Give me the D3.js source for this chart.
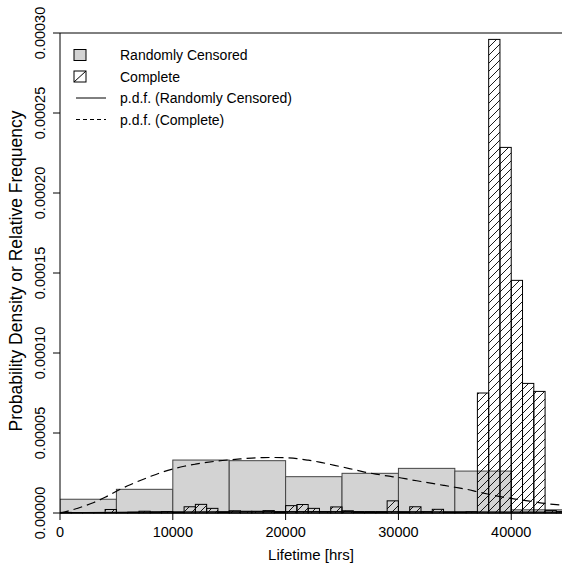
<!DOCTYPE html>
<html>
<head>
<meta charset="utf-8">
<script src="https://cdn.jsdelivr.net/npm/d3@7"></script>
<style>
  body { margin: 0; background: #fff; }
  text { font-family: "Liberation Sans", Arial, Helvetica, sans-serif; fill: #000; }
</style>
</head>
<body>
<div id="chart"></div>
<script>
// gray histogram (Randomly Censored), 5000 hr bins, density
var censBinStart = [0, 5000, 10000, 15000, 20000, 25000, 30000, 35000, 40000];
var censBinWidth = 5000;
var censDensity = [8.6e-6, 14.8e-6, 33.1e-6, 32.7e-6, 22.7e-6, 24.8e-6, 27.9e-6, 26.2e-6, 2.0e-6];

// hatched histogram (Complete), 1000 hr bins, density
var compBinWidth = 1000;
var compDensity = [
  0.4e-6, 0.2e-6, 0.3e-6, 0.2e-6, 2.2e-6, 0.2e-6, 0.5e-6, 1.1e-6, 0.7e-6, 0.9e-6,
  0.5e-6, 3.9e-6, 5.4e-6, 2.9e-6, 0.6e-6, 1.4e-6, 1.1e-6, 1.1e-6, 1.5e-6, 0.5e-6,
  4.6e-6, 5.3e-6, 2.9e-6, 0.8e-6, 3.8e-6, 1.4e-6, 0.6e-6, 0.5e-6, 0.5e-6, 7.6e-6,
  0.5e-6, 3.9e-6, 0.8e-6, 2.3e-6, 0.5e-6, 0.5e-6, 0.8e-6, 75e-6, 296e-6, 228.5e-6,
  145.4e-6, 81e-6, 76e-6, 1.5e-6, 1.0e-6
];

// p.d.f. curves
var pdfX = [0, 1000, 2000, 3000, 4000, 5000, 6000, 7000, 8000, 9000, 10000, 11000, 12000,
  13000, 14000, 15000, 16000, 17000, 18000, 19000, 20000, 21000, 22000, 23000, 24000,
  25000, 26000, 27000, 28000, 29000, 30000, 31000, 32000, 33000, 34000, 35000, 36000,
  37000, 38000, 39000, 40000, 41000, 42000, 43000, 44000, 45000];
var pdfComplete = [0, 1.8e-6, 4.0e-6, 6.6e-6, 9.8e-6, 13.6e-6, 17.0e-6, 20.0e-6, 22.8e-6,
  25.4e-6, 27.5e-6, 29.2e-6, 30.5e-6, 31.6e-6, 32.5e-6, 33.2e-6, 33.8e-6, 34.3e-6, 34.6e-6,
  34.7e-6, 34.5e-6, 34.0e-6, 33.0e-6, 31.8e-6, 30.3e-6, 28.8e-6, 27.2e-6, 25.6e-6, 24.3e-6,
  23.2e-6, 22.2e-6, 20.9e-6, 19.7e-6, 18.5e-6, 17.3e-6, 16.1e-6, 14.9e-6, 13.3e-6, 11.7e-6,
  10.2e-6, 9.1e-6, 8.0e-6, 7.0e-6, 6.0e-6, 5.2e-6, 4.6e-6];
var pdfCensored = [0.2e-6, 0.25e-6, 0.3e-6, 0.35e-6, 0.4e-6, 0.45e-6, 0.5e-6, 0.55e-6, 0.6e-6,
  0.65e-6, 0.7e-6, 0.72e-6, 0.75e-6, 0.78e-6, 0.8e-6, 0.82e-6, 0.84e-6, 0.86e-6, 0.88e-6,
  0.9e-6, 0.9e-6, 0.9e-6, 0.9e-6, 0.9e-6, 0.9e-6, 0.9e-6, 0.9e-6, 0.9e-6, 0.9e-6,
  0.88e-6, 0.86e-6, 0.84e-6, 0.82e-6, 0.8e-6, 0.78e-6, 0.76e-6, 0.74e-6, 0.72e-6, 0.7e-6,
  0.68e-6, 0.66e-6, 0.64e-6, 0.62e-6, 0.6e-6, 0.58e-6, 0.56e-6];

var xTicks = [0, 10000, 20000, 30000, 40000];
var yTicks = [0, 0.00005, 0.0001, 0.00015, 0.0002, 0.00025, 0.0003];
var yTickLabels = ["0.00000", "0.00005", "0.00010", "0.00015", "0.00020", "0.00025", "0.00030"];
var legendLabels = ["Randomly Censored", "Complete", "p.d.f. (Randomly Censored)", "p.d.f. (Complete)"];

var W = 562, H = 568;
var plotL = 60, plotR = 562, plotT = 33, plotB = 513;

var svg = d3.select("#chart").append("svg")
    .attr("width", W)
    .attr("height", H);

var x = d3.scaleLinear().domain([0, 44500]).range([plotL, plotR]);
var y = d3.scaleLinear().domain([0, 0.0003]).range([plotB, plotT]);

var defs = svg.append("defs");
defs.append("pattern")
    .attr("id", "hatch")
    .attr("patternUnits", "userSpaceOnUse")
    .attr("width", 8)
    .attr("height", 8)
  .append("path")
    .attr("d", "M-2,2 L2,-2 M0,8 L8,0 M6,10 L10,6")
    .attr("stroke", "#000")
    .attr("stroke-width", 0.9);

defs.append("clipPath").attr("id", "plotclip")
  .append("rect")
    .attr("x", plotL).attr("y", plotT - 1)
    .attr("width", plotR - plotL).attr("height", plotB - plotT + 2);

var plot = svg.append("g").attr("clip-path", "url(#plotclip)");

// gray bars
plot.selectAll("rect.cens")
    .data(censDensity)
    .enter()
    .append("rect")
    .attr("class", "cens")
    .attr("x", function(d, i) { return x(censBinStart[i]); })
    .attr("y", function(d) { return y(d); })
    .attr("width", function(d, i) { return x(censBinStart[i] + censBinWidth) - x(censBinStart[i]); })
    .attr("height", function(d) { return y(0) - y(d); })
    .style("fill", "#d3d3d3")
    .style("stroke", "#444")
    .style("stroke-width", 1);

// hatched bars
plot.selectAll("rect.comp")
    .data(compDensity)
    .enter()
    .append("rect")
    .attr("class", "comp")
    .attr("x", function(d, i) { return x(i * compBinWidth); })
    .attr("y", function(d) { return y(d); })
    .attr("width", function(d, i) { return x((i + 1) * compBinWidth) - x(i * compBinWidth); })
    .attr("height", function(d) { return y(0) - y(d); })
    .style("fill", "url(#hatch)")
    .style("stroke", "#000")
    .style("stroke-width", 1);

var line = d3.line()
    .x(function(d) { return x(d[0]); })
    .y(function(d) { return y(d[1]); })
    .curve(d3.curveMonotoneX);

plot.append("path")
    .datum(pdfX.map(function(v, i) { return [v, pdfCensored[i]]; }))
    .attr("d", line)
    .style("fill", "none")
    .style("stroke", "#000")
    .style("stroke-width", 1);

plot.append("path")
    .datum(pdfX.map(function(v, i) { return [v, pdfComplete[i]]; }))
    .attr("d", line)
    .style("fill", "none")
    .style("stroke", "#000")
    .style("stroke-width", 1.2)
    .style("stroke-dasharray", "9,5");

// box (left, top, bottom)
svg.append("path")
    .attr("d", "M" + plotR + "," + plotT + " H" + plotL + " V" + plotB + " H" + plotR)
    .style("fill", "none")
    .style("stroke", "#000")
    .style("stroke-width", 1);

// x axis
var xAxis = svg.append("g");
xAxis.selectAll("line")
    .data(xTicks)
    .enter()
    .append("line")
    .attr("x1", function(d) { return x(d); })
    .attr("x2", function(d) { return x(d); })
    .attr("y1", plotB)
    .attr("y2", plotB + 7)
    .style("stroke", "#000");
xAxis.selectAll("text")
    .data(xTicks)
    .enter()
    .append("text")
    .attr("x", function(d) { return x(d); })
    .attr("y", 537)
    .attr("text-anchor", "middle")
    .style("font-size", "14.5px")
    .text(function(d) { return d; });

// y axis
var yAxis = svg.append("g");
yAxis.selectAll("line")
    .data(yTicks)
    .enter()
    .append("line")
    .attr("x1", plotL - 7)
    .attr("x2", plotL)
    .attr("y1", function(d) { return y(d); })
    .attr("y2", function(d) { return y(d); })
    .style("stroke", "#000");
yAxis.selectAll("text")
    .data(yTicks)
    .enter()
    .append("text")
    .attr("transform", function(d) { return "translate(45," + y(d) + ") rotate(-90)"; })
    .attr("text-anchor", "middle")
    .style("font-size", "14.5px")
    .text(function(d, i) { return yTickLabels[i]; });

svg.append("text")
    .attr("x", (plotL + plotR) / 2)
    .attr("y", 560)
    .attr("text-anchor", "middle")
    .style("font-size", "15px")
    .text("Lifetime [hrs]");

svg.append("text")
    .attr("transform", "translate(22,271) rotate(-90)")
    .attr("text-anchor", "middle")
    .style("font-size", "17.5px")
    .text("Probability Density or Relative Frequency");

// legend
var legRows = [55, 76.5, 98, 119.5];
var leg = svg.append("g");
leg.append("rect")
    .attr("x", 74).attr("y", legRows[0] - 5.5).attr("width", 12).attr("height", 11)
    .style("fill", "#d3d3d3").style("stroke", "#000");
leg.append("rect")
    .attr("x", 74).attr("y", legRows[1] - 5.5).attr("width", 12).attr("height", 11)
    .style("fill", "#fff").style("stroke", "#000");
leg.append("line")
    .attr("x1", 74).attr("y1", legRows[1] + 5.5).attr("x2", 86).attr("y2", legRows[1] - 5.5)
    .style("stroke", "#000");
leg.append("line")
    .attr("x1", 76).attr("x2", 106).attr("y1", legRows[2]).attr("y2", legRows[2])
    .style("stroke", "#000");
leg.append("line")
    .attr("x1", 76).attr("x2", 106).attr("y1", legRows[3]).attr("y2", legRows[3])
    .style("stroke", "#000")
    .style("stroke-dasharray", "4,3");
leg.selectAll("text")
    .data(legendLabels)
    .enter()
    .append("text")
    .attr("x", 120)
    .attr("y", function(d, i) { return legRows[i] + 5; })
    .style("font-size", "14px")
    .text(function(d) { return d; });
</script>
</body>
</html>
